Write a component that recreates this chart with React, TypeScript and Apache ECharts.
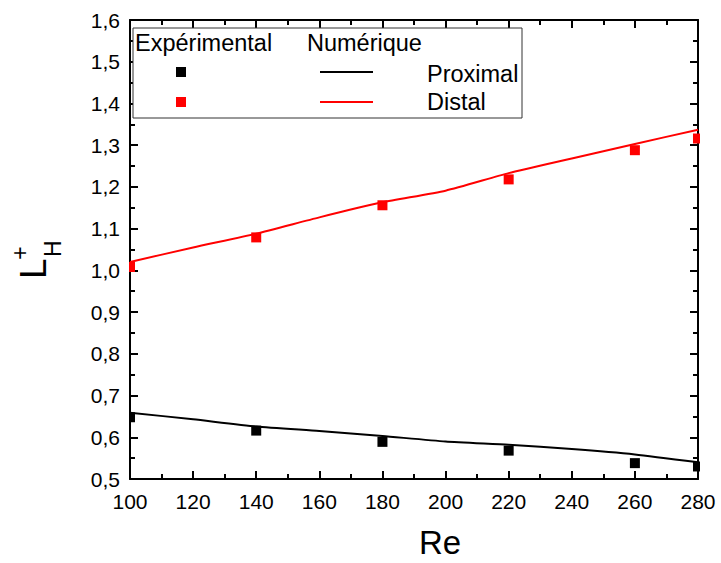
import React, { useEffect, useRef } from "react";
import * as echarts from "echarts";

const reValues = [100, 140, 180, 220, 260, 280];
const proximalExp = [0.648, 0.616, 0.589, 0.568, 0.538, 0.530];
const distalExp = [1.008, 1.079, 1.156, 1.218, 1.288, 1.316];

const reNum = [100, 120, 140, 160, 180, 200, 220, 240, 260, 280];
const proximalNum = [0.659, 0.643, 0.626, 0.615, 0.603, 0.590, 0.582, 0.572, 0.559, 0.540];
const distalNum = [1.020, 1.055, 1.088, 1.127, 1.163, 1.191, 1.233, 1.268, 1.303, 1.337];

const xTicks = { min: 100, max: 280, interval: 20 };
const yTicks = { min: 0.5, max: 1.6, interval: 0.1 };

const FONT = "Liberation Sans, Arial, sans-serif";

export default function App() {
  const ref = useRef<HTMLDivElement>(null);
  useEffect(() => {
    if (!ref.current) return;
    const chart = echarts.init(ref.current, null, { renderer: "svg" });
    const pair = (xs: number[], ys: number[]) => xs.map((x, i) => [x, ys[i]]);
    const axisStyle = (showLabel: boolean, isY: boolean) => ({
      axisLine: { show: true, lineStyle: { color: "#000", width: 2 } },
      axisTick: { show: true, inside: true, length: 8, lineStyle: { color: "#000", width: 2 } },
      minorTick: { show: true, splitNumber: 2, length: 5, lineStyle: { color: "#000", width: 2 } },
      splitLine: { show: true, lineStyle: { color: "rgba(0,0,0,0)", width: 0 } },
      axisLabel: showLabel
        ? (isY
          ? { show: true, fontSize: 21, color: "#000", fontFamily: FONT, margin: 10, formatter: (v: number) => v.toFixed(1).replace(".", ",") }
          : { show: true, fontSize: 21, color: "#000", fontFamily: FONT, margin: 12 })
        : { show: true, color: "rgba(0,0,0,0)", fontSize: 1 },
    });
    chart.setOption({
      animation: false,
      grid: { left: 130, right: 23, top: 20, bottom: 84 },
      xAxis: [
        { type: "value", ...xTicks, ...axisStyle(true, false) },
        { type: "value", position: "top", ...xTicks, ...axisStyle(false, false) },
      ],
      yAxis: [
        { type: "value", ...yTicks, ...axisStyle(true, true) },
        { type: "value", position: "right", ...yTicks, ...axisStyle(false, true) },
      ],
      series: [
        {
          name: "Proximal num", type: "line", data: pair(reNum, proximalNum),
          showSymbol: false, smooth: 0.2, lineStyle: { color: "#000", width: 2 }, z: 3,
        },
        {
          name: "Distal num", type: "line", data: pair(reNum, distalNum),
          showSymbol: false, smooth: 0.2, lineStyle: { color: "#ff0000", width: 2 }, z: 3,
        },
        {
          name: "Proximal exp", type: "scatter", data: pair(reValues, proximalExp),
          symbol: "rect", symbolSize: 10, itemStyle: { color: "#000", opacity: 1 }, z: 4,
        },
        {
          name: "Distal exp", type: "scatter", data: pair(reValues, distalExp),
          symbol: "rect", symbolSize: 10, itemStyle: { color: "#ff0000", opacity: 1 }, z: 4,
        },
      ],
      graphic: [
        { type: "rect", z: 50, silent: true, shape: { x: 121, y: 10, width: 8, height: 480 }, style: { fill: "#fff" } },
        { type: "rect", z: 50, silent: true, shape: { x: 700, y: 10, width: 21, height: 480 }, style: { fill: "#fff" } },
        { type: "rect", z: 60, shape: { x: 133, y: 28, width: 389, height: 90 }, style: { fill: "#fff", stroke: "#333", lineWidth: 1 } },
        { type: "text", z: 61, x: 135, y: 43, style: { text: "Expérimental", font: `23.5px ${FONT}`, fill: "#000", textAlign: "left", textVerticalAlign: "middle" } },
        { type: "text", z: 61, x: 307, y: 43, style: { text: "Numérique", font: `23.5px ${FONT}`, fill: "#000", textAlign: "left", textVerticalAlign: "middle" } },
        { type: "rect", z: 61, shape: { x: 176, y: 67, width: 10, height: 10 }, style: { fill: "#000" } },
        { type: "rect", z: 61, shape: { x: 176, y: 97, width: 10, height: 10 }, style: { fill: "#ff0000" } },
        { type: "line", z: 61, shape: { x1: 320, y1: 72, x2: 373, y2: 72 }, style: { stroke: "#000", lineWidth: 2 } },
        { type: "line", z: 61, shape: { x1: 320, y1: 102, x2: 373, y2: 102 }, style: { stroke: "#ff0000", lineWidth: 2 } },
        { type: "text", z: 61, x: 427, y: 74, style: { text: "Proximal", font: `23.5px ${FONT}`, fill: "#000", textAlign: "left", textVerticalAlign: "middle" } },
        { type: "text", z: 61, x: 427, y: 102, style: { text: "Distal", font: `23.5px ${FONT}`, fill: "#000", textAlign: "left", textVerticalAlign: "middle" } },
        { type: "text", z: 61, x: 440, y: 542, style: { text: "Re", font: `33px ${FONT}`, fill: "#000", textAlign: "center", textVerticalAlign: "middle" } },
        {
          type: "group", z: 61, x: 33, y: 279, rotation: Math.PI / 2,
          children: [
            { type: "text", x: 0, y: 0, style: { text: "L", font: `37px ${FONT}`, fill: "#000", textAlign: "left", textVerticalAlign: "middle" } },
            { type: "text", x: 22, y: 20, style: { text: "H", font: `23px ${FONT}`, fill: "#000", textAlign: "left", textVerticalAlign: "middle" } },
            { type: "text", x: 26, y: -13, style: { text: "+", font: `23px ${FONT}`, fill: "#000", textAlign: "center", textVerticalAlign: "middle" } },
          ],
        },
      ],
    });
    return () => chart.dispose();
  }, []);
  return (
    <div
      ref={ref}
      style={{ position: "fixed", left: 0, top: 0, width: 721, height: 563, background: "#fff" }}
    />
  );
}
